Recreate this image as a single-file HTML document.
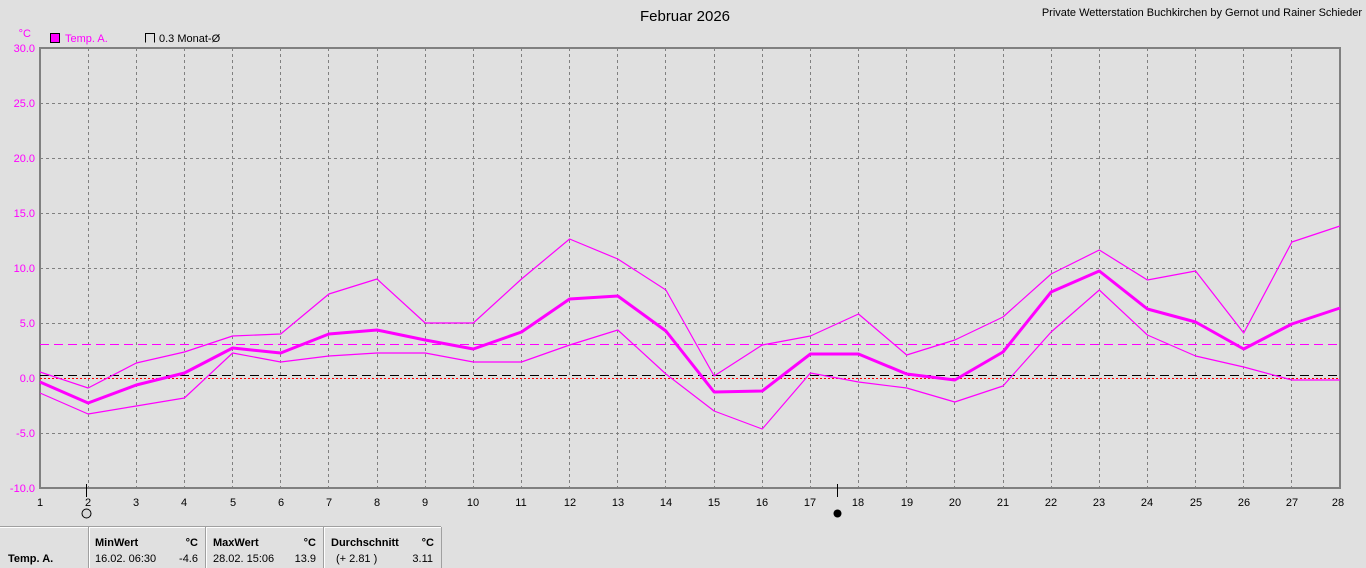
<!DOCTYPE html>
<html><head><meta charset="utf-8"><style>
html,body{margin:0;padding:0;background:#e0e0e0;}
svg{display:block;font-family:"Liberation Sans",Arial,sans-serif;}
</style></head><body>
<svg width="1366" height="568" viewBox="0 0 1366 568" xmlns="http://www.w3.org/2000/svg">
<rect width="1366" height="568" fill="#e0e0e0"/>
<text x="685" y="21" font-size="15" text-anchor="middle" fill="#000">Februar 2026</text>
<text x="1362" y="16" font-size="11" text-anchor="end" fill="#000">Private Wetterstation Buchkirchen by Gernot und Rainer Schieder</text>
<text x="31" y="37" font-size="11" text-anchor="end" fill="#ff00ff">°C</text>
<rect x="50.5" y="33.5" width="9" height="9" fill="#ff00ff" stroke="#000"/>
<text x="65" y="42" font-size="11" fill="#ff00ff">Temp. A.</text>
<path d="M145.5 42.5V33.5H154.5V42.5" fill="none" stroke="#000"/>
<text x="159" y="42" font-size="11" fill="#000">0.3 Monat-Ø</text>
<g stroke="#808080" stroke-dasharray="3,3" stroke-width="1">
<path d="M40 103.5H1340M40 158.5H1340M40 213.5H1340M40 268.5H1340M40 323.5H1340M40 433.5H1340"/>
<path d="M88.5 48V488M136.5 48V488M184.5 48V488M232.5 48V488M280.5 48V488M328.5 48V488M377.5 48V488M425.5 48V488M473.5 48V488M521.5 48V488M569.5 48V488M617.5 48V488M665.5 48V488M714.5 48V488M762.5 48V488M810.5 48V488M858.5 48V488M906.5 48V488M954.5 48V488M1003.5 48V488M1051.5 48V488M1099.5 48V488M1147.5 48V488M1195.5 48V488M1243.5 48V488M1291.5 48V488"/>
</g>
<rect x="40" y="48" width="1300" height="440" fill="none" stroke="#808080" stroke-width="2"/>
<g font-size="11" fill="#ff00ff" text-anchor="end">
<text x="35" y="52">30.0</text><text x="35" y="107">25.0</text><text x="35" y="162">20.0</text><text x="35" y="217">15.0</text><text x="35" y="272">10.0</text><text x="35" y="327">5.0</text><text x="35" y="382">0.0</text><text x="35" y="437">-5.0</text><text x="35" y="492">-10.0</text>
</g>
<g font-size="11" fill="#000" text-anchor="middle">
<text x="40" y="506">1</text><text x="88" y="506">2</text><text x="136" y="506">3</text><text x="184" y="506">4</text><text x="233" y="506">5</text><text x="281" y="506">6</text><text x="329" y="506">7</text><text x="377" y="506">8</text><text x="425" y="506">9</text><text x="473" y="506">10</text><text x="521" y="506">11</text><text x="570" y="506">12</text><text x="618" y="506">13</text><text x="666" y="506">14</text><text x="714" y="506">15</text><text x="762" y="506">16</text><text x="810" y="506">17</text><text x="858" y="506">18</text><text x="907" y="506">19</text><text x="955" y="506">20</text><text x="1003" y="506">21</text><text x="1051" y="506">22</text><text x="1099" y="506">23</text><text x="1147" y="506">24</text><text x="1196" y="506">25</text><text x="1244" y="506">26</text><text x="1292" y="506">27</text><text x="1338" y="506">28</text>
</g>
<path d="M86.5 484V497M837.5 484V497" stroke="#000"/>
<circle cx="86.5" cy="513.5" r="4.5" fill="#d8d8d8" stroke="#000"/>
<circle cx="837.5" cy="513.5" r="4" fill="#000"/>
<path d="M40 378.5H1340" stroke="#ff0000" stroke-dasharray="2,2"/>
<path d="M40 375.5H1340" stroke="#000" stroke-dasharray="9,5"/>
<path d="M40 344.5H1340" stroke="#ff00ff" stroke-dasharray="9,5"/>
<g fill="none" stroke="#ff00ff" stroke-linejoin="round">
<polyline stroke-width="1.2" points="40,372 88.1,388 136.3,363 184.4,352 232.6,336 280.7,334 328.9,294 377,279 425.2,323 473.3,323 521.5,279 569.6,239 617.8,259 665.9,290 714.1,376 762.2,345 810.4,336 858.5,314 906.7,355 954.8,340 1003,317 1051.1,274 1099.3,250 1147.4,280 1195.6,271 1243.7,333 1291.9,242 1340,226"/>
<polyline stroke-width="3" points="40,382 88.1,403 136.3,385 184.4,373 232.6,348 280.7,353 328.9,334 377,330 425.2,340 473.3,349 521.5,332 569.6,299 617.8,296 665.9,331 714.1,392 762.2,391 810.4,354 858.5,354 906.7,374 954.8,380 1003,352 1051.1,292 1099.3,271 1147.4,309 1195.6,322 1243.7,349 1291.9,324 1340,308"/>
<polyline stroke-width="1.2" points="40,393 88.1,414 136.3,406 184.4,398 232.6,353 280.7,362 328.9,356 377,353 425.2,353 473.3,362 521.5,362 569.6,345 617.8,330 665.9,374 714.1,411 762.2,429 810.4,373 858.5,382 906.7,388 954.8,402 1003,386 1051.1,332 1099.3,290 1147.4,335 1195.6,356 1243.7,367 1291.9,380 1340,380"/>
</g>
<path d="M0 527.5H441" stroke="#fff"/>
<path d="M0 526.5H441" stroke="#a0a0a0"/>
<g stroke="#a0a0a0"><path d="M88.5 527V568M205.5 527V568M323.5 527V568M441.5 527V568"/></g>
<g stroke="#fff"><path d="M89.5 527V568M206.5 527V568M324.5 527V568"/></g>
<g font-size="11" fill="#000">
<text x="8" y="562" font-weight="bold">Temp. A.</text>
<text x="95" y="546" font-weight="bold">MinWert</text><text x="198" y="546" font-weight="bold" text-anchor="end">°C</text>
<text x="95" y="562">16.02.  06:30</text><text x="198" y="562" text-anchor="end">-4.6</text>
<text x="213" y="546" font-weight="bold">MaxWert</text><text x="316" y="546" font-weight="bold" text-anchor="end">°C</text>
<text x="213" y="562">28.02.  15:06</text><text x="316" y="562" text-anchor="end">13.9</text>
<text x="331" y="546" font-weight="bold">Durchschnitt</text><text x="434" y="546" font-weight="bold" text-anchor="end">°C</text>
<text x="336" y="562">(+ 2.81 )</text><text x="433" y="562" text-anchor="end">3.11</text>
</g>
</svg>
</body></html>
